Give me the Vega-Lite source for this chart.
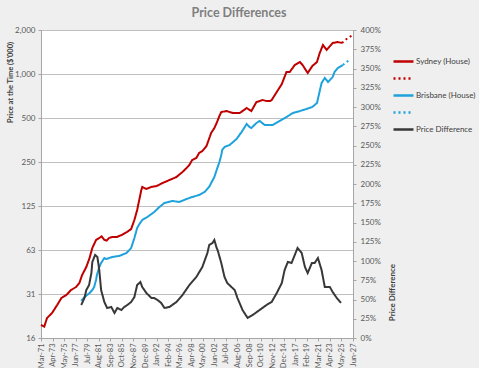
{
  "$schema": "https://vega.github.io/schema/vega-lite/v6.json",
  "autosize": "none",
  "width": 312,
  "height": 308,
  "padding": {"left": 41, "top": 30, "right": 126, "bottom": 30},
  "background": "#efefef",
  "view": {"fill": "white", "stroke": "#bfbfbf"},
  "config": {"font": "Lato", "axis": {"labelFont": "Lato", "titleFont": "Lato", "labelColor": "#595959", "titleColor": "#404040", "labelFontSize": 8, "titleFontSize": 8, "domainColor": "#a6a6a6", "tickColor": "#a6a6a6", "tickSize": 3}},
  "title": {"text": "Price Differences", "font": "Lato", "fontSize": 12.5, "fontWeight": "bold", "color": "#7f7f7f", "anchor": "middle", "dx": 42, "offset": 7},
  "datasets": {
    "prices": [
      {"date": "1971-03-01", "series": "Sydney (House)", "value": 19.2},
      {"date": "1971-10-01", "series": "Sydney (House)", "value": 18.7},
      {"date": "1972-04-01", "series": "Sydney (House)", "value": 21.4},
      {"date": "1973-03-01", "series": "Sydney (House)", "value": 23.2},
      {"date": "1974-02-01", "series": "Sydney (House)", "value": 26.3},
      {"date": "1974-11-01", "series": "Sydney (House)", "value": 29.3},
      {"date": "1975-10-01", "series": "Sydney (House)", "value": 30.8},
      {"date": "1976-08-01", "series": "Sydney (House)", "value": 33.3},
      {"date": "1977-07-01", "series": "Sydney (House)", "value": 34.9},
      {"date": "1978-02-01", "series": "Sydney (House)", "value": 37.2},
      {"date": "1978-08-01", "series": "Sydney (House)", "value": 42.2},
      {"date": "1979-05-01", "series": "Sydney (House)", "value": 47.8},
      {"date": "1979-12-01", "series": "Sydney (House)", "value": 55.1},
      {"date": "1980-06-01", "series": "Sydney (House)", "value": 64.5},
      {"date": "1981-02-01", "series": "Sydney (House)", "value": 73.2},
      {"date": "1981-09-01", "series": "Sydney (House)", "value": 75.5},
      {"date": "1982-02-01", "series": "Sydney (House)", "value": 77.5},
      {"date": "1982-08-01", "series": "Sydney (House)", "value": 73.2},
      {"date": "1983-01-01", "series": "Sydney (House)", "value": 72.5},
      {"date": "1983-06-01", "series": "Sydney (House)", "value": 75.5},
      {"date": "1984-01-01", "series": "Sydney (House)", "value": 76.7},
      {"date": "1984-12-01", "series": "Sydney (House)", "value": 76.7},
      {"date": "1985-04-01", "series": "Sydney (House)", "value": 78.0},
      {"date": "1985-10-01", "series": "Sydney (House)", "value": 79.2},
      {"date": "1986-09-01", "series": "Sydney (House)", "value": 83.0},
      {"date": "1987-06-01", "series": "Sydney (House)", "value": 87.0},
      {"date": "1988-01-01", "series": "Sydney (House)", "value": 100.3},
      {"date": "1988-07-01", "series": "Sydney (House)", "value": 117.3},
      {"date": "1989-04-01", "series": "Sydney (House)", "value": 160.8},
      {"date": "1989-06-01", "series": "Sydney (House)", "value": 168.6},
      {"date": "1990-03-01", "series": "Sydney (House)", "value": 163.4},
      {"date": "1991-01-01", "series": "Sydney (House)", "value": 168.6},
      {"date": "1992-01-01", "series": "Sydney (House)", "value": 171.2},
      {"date": "1993-02-01", "series": "Sydney (House)", "value": 179.5},
      {"date": "1994-05-01", "series": "Sydney (House)", "value": 188.3},
      {"date": "1995-08-01", "series": "Sydney (House)", "value": 197.3},
      {"date": "1996-09-01", "series": "Sydney (House)", "value": 213.6},
      {"date": "1997-06-01", "series": "Sydney (House)", "value": 227.5},
      {"date": "1997-12-01", "series": "Sydney (House)", "value": 238.5},
      {"date": "1998-06-01", "series": "Sydney (House)", "value": 258},
      {"date": "1999-03-01", "series": "Sydney (House)", "value": 266.3},
      {"date": "1999-09-01", "series": "Sydney (House)", "value": 288},
      {"date": "2000-04-01", "series": "Sydney (House)", "value": 297},
      {"date": "2001-01-01", "series": "Sydney (House)", "value": 321.7},
      {"date": "2001-08-01", "series": "Sydney (House)", "value": 370.6},
      {"date": "2001-11-01", "series": "Sydney (House)", "value": 394.7},
      {"date": "2002-06-01", "series": "Sydney (House)", "value": 427},
      {"date": "2002-11-01", "series": "Sydney (House)", "value": 462},
      {"date": "2003-05-01", "series": "Sydney (House)", "value": 516},
      {"date": "2003-09-01", "series": "Sydney (House)", "value": 549},
      {"date": "2004-08-01", "series": "Sydney (House)", "value": 558},
      {"date": "2005-10-01", "series": "Sydney (House)", "value": 541},
      {"date": "2007-01-01", "series": "Sydney (House)", "value": 541},
      {"date": "2008-04-01", "series": "Sydney (House)", "value": 585},
      {"date": "2009-02-01", "series": "Sydney (House)", "value": 558},
      {"date": "2010-01-01", "series": "Sydney (House)", "value": 643},
      {"date": "2010-08-01", "series": "Sydney (House)", "value": 653},
      {"date": "2011-02-01", "series": "Sydney (House)", "value": 664},
      {"date": "2011-11-01", "series": "Sydney (House)", "value": 653},
      {"date": "2012-06-01", "series": "Sydney (House)", "value": 653},
      {"date": "2012-10-01", "series": "Sydney (House)", "value": 664},
      {"date": "2013-09-01", "series": "Sydney (House)", "value": 753},
      {"date": "2014-08-01", "series": "Sydney (House)", "value": 854},
      {"date": "2015-06-01", "series": "Sydney (House)", "value": 1032},
      {"date": "2016-01-01", "series": "Sydney (House)", "value": 1032},
      {"date": "2016-12-01", "series": "Sydney (House)", "value": 1152},
      {"date": "2017-11-01", "series": "Sydney (House)", "value": 1208},
      {"date": "2018-05-01", "series": "Sydney (House)", "value": 1152},
      {"date": "2019-04-01", "series": "Sydney (House)", "value": 1016},
      {"date": "2020-02-01", "series": "Sydney (House)", "value": 1134},
      {"date": "2020-12-01", "series": "Sydney (House)", "value": 1208},
      {"date": "2021-06-01", "series": "Sydney (House)", "value": 1392},
      {"date": "2022-01-01", "series": "Sydney (House)", "value": 1579},
      {"date": "2022-09-01", "series": "Sydney (House)", "value": 1460},
      {"date": "2023-10-01", "series": "Sydney (House)", "value": 1630},
      {"date": "2024-09-01", "series": "Sydney (House)", "value": 1655},
      {"date": "2025-06-01", "series": "Sydney (House)", "value": 1630},
      {"date": "2025-06-01", "series": "Sydney forecast", "value": 1630},
      {"date": "2026-04-01", "series": "Sydney forecast", "value": 1736},
      {"date": "2027-05-01", "series": "Sydney forecast", "value": 1848},
      {"date": "1978-06-01", "series": "Brisbane (House)", "value": 28.0},
      {"date": "1979-01-01", "series": "Brisbane (House)", "value": 29.8},
      {"date": "1979-12-01", "series": "Brisbane (House)", "value": 31.7},
      {"date": "1980-06-01", "series": "Brisbane (House)", "value": 33.3},
      {"date": "1980-10-01", "series": "Brisbane (House)", "value": 34.9},
      {"date": "1981-02-01", "series": "Brisbane (House)", "value": 39.0},
      {"date": "1981-04-01", "series": "Brisbane (House)", "value": 42.2},
      {"date": "1981-09-01", "series": "Brisbane (House)", "value": 47.8},
      {"date": "1982-01-01", "series": "Brisbane (House)", "value": 50.9},
      {"date": "1982-08-01", "series": "Brisbane (House)", "value": 55.1},
      {"date": "1982-12-01", "series": "Brisbane (House)", "value": 54.2},
      {"date": "1984-01-01", "series": "Brisbane (House)", "value": 56.0},
      {"date": "1985-04-01", "series": "Brisbane (House)", "value": 56.9},
      {"date": "1986-08-01", "series": "Brisbane (House)", "value": 59.6},
      {"date": "1987-06-01", "series": "Brisbane (House)", "value": 64.5},
      {"date": "1988-01-01", "series": "Brisbane (House)", "value": 75.5},
      {"date": "1988-07-01", "series": "Brisbane (House)", "value": 88.4},
      {"date": "1988-12-01", "series": "Brisbane (House)", "value": 94.1},
      {"date": "1989-06-01", "series": "Brisbane (House)", "value": 100.3},
      {"date": "1990-05-01", "series": "Brisbane (House)", "value": 105.1},
      {"date": "1991-08-01", "series": "Brisbane (House)", "value": 113.7},
      {"date": "1992-07-01", "series": "Brisbane (House)", "value": 123.0},
      {"date": "1993-06-01", "series": "Brisbane (House)", "value": 131.1},
      {"date": "1994-12-01", "series": "Brisbane (House)", "value": 135.3},
      {"date": "1996-02-01", "series": "Brisbane (House)", "value": 133.1},
      {"date": "1997-06-01", "series": "Brisbane (House)", "value": 139.6},
      {"date": "1998-06-01", "series": "Brisbane (House)", "value": 144.1},
      {"date": "1999-09-01", "series": "Brisbane (House)", "value": 148.6},
      {"date": "2000-09-01", "series": "Brisbane (House)", "value": 155.8},
      {"date": "2001-08-01", "series": "Brisbane (House)", "value": 171.2},
      {"date": "2001-11-01", "series": "Brisbane (House)", "value": 179.5},
      {"date": "2002-06-01", "series": "Brisbane (House)", "value": 197.3},
      {"date": "2002-11-01", "series": "Brisbane (House)", "value": 220.4},
      {"date": "2003-05-01", "series": "Brisbane (House)", "value": 250},
      {"date": "2003-09-01", "series": "Brisbane (House)", "value": 279},
      {"date": "2003-11-01", "series": "Brisbane (House)", "value": 302},
      {"date": "2004-04-01", "series": "Brisbane (House)", "value": 316.7},
      {"date": "2005-03-01", "series": "Brisbane (House)", "value": 326.7},
      {"date": "2006-06-01", "series": "Brisbane (House)", "value": 359},
      {"date": "2007-05-01", "series": "Brisbane (House)", "value": 401},
      {"date": "2008-04-01", "series": "Brisbane (House)", "value": 455},
      {"date": "2008-10-01", "series": "Brisbane (House)", "value": 434},
      {"date": "2009-02-01", "series": "Brisbane (House)", "value": 427},
      {"date": "2010-01-01", "series": "Brisbane (House)", "value": 462},
      {"date": "2010-08-01", "series": "Brisbane (House)", "value": 477},
      {"date": "2011-07-01", "series": "Brisbane (House)", "value": 448},
      {"date": "2012-12-01", "series": "Brisbane (House)", "value": 448},
      {"date": "2014-03-01", "series": "Brisbane (House)", "value": 477},
      {"date": "2015-06-01", "series": "Brisbane (House)", "value": 508},
      {"date": "2016-08-01", "series": "Brisbane (House)", "value": 541},
      {"date": "2017-11-01", "series": "Brisbane (House)", "value": 558},
      {"date": "2019-01-01", "series": "Brisbane (House)", "value": 576},
      {"date": "2020-02-01", "series": "Brisbane (House)", "value": 595},
      {"date": "2020-12-01", "series": "Brisbane (House)", "value": 633},
      {"date": "2021-06-01", "series": "Brisbane (House)", "value": 765},
      {"date": "2021-10-01", "series": "Brisbane (House)", "value": 868},
      {"date": "2022-05-01", "series": "Brisbane (House)", "value": 939},
      {"date": "2022-12-01", "series": "Brisbane (House)", "value": 881},
      {"date": "2023-10-01", "series": "Brisbane (House)", "value": 954},
      {"date": "2024-02-01", "series": "Brisbane (House)", "value": 1032},
      {"date": "2024-09-01", "series": "Brisbane (House)", "value": 1099},
      {"date": "2025-08-01", "series": "Brisbane (House)", "value": 1152},
      {"date": "2025-08-01", "series": "Brisbane forecast", "value": 1152},
      {"date": "2026-04-01", "series": "Brisbane forecast", "value": 1208},
      {"date": "2027-01-01", "series": "Brisbane forecast", "value": 1266}
    ],
    "diff": [
      {"date": "1978-06-01", "series": "Price Difference", "value": 42.9},
      {"date": "1979-01-01", "series": "Price Difference", "value": 51.9},
      {"date": "1979-05-01", "series": "Price Difference", "value": 62.3},
      {"date": "1979-11-01", "series": "Price Difference", "value": 68.8},
      {"date": "1980-04-01", "series": "Price Difference", "value": 84.4},
      {"date": "1980-06-01", "series": "Price Difference", "value": 98.7},
      {"date": "1980-12-01", "series": "Price Difference", "value": 107.8},
      {"date": "1981-05-01", "series": "Price Difference", "value": 105.2},
      {"date": "1981-09-01", "series": "Price Difference", "value": 88.3},
      {"date": "1982-01-01", "series": "Price Difference", "value": 62.3},
      {"date": "1982-08-01", "series": "Price Difference", "value": 46.8},
      {"date": "1983-02-01", "series": "Price Difference", "value": 39.0},
      {"date": "1983-11-01", "series": "Price Difference", "value": 40.3},
      {"date": "1984-06-01", "series": "Price Difference", "value": 32.5},
      {"date": "1984-12-01", "series": "Price Difference", "value": 39.0},
      {"date": "1985-09-01", "series": "Price Difference", "value": 36.4},
      {"date": "1986-03-01", "series": "Price Difference", "value": 40.3},
      {"date": "1986-10-01", "series": "Price Difference", "value": 42.9},
      {"date": "1987-06-01", "series": "Price Difference", "value": 46.8},
      {"date": "1988-01-01", "series": "Price Difference", "value": 53.2},
      {"date": "1988-07-01", "series": "Price Difference", "value": 68.8},
      {"date": "1989-02-01", "series": "Price Difference", "value": 72.7},
      {"date": "1989-06-01", "series": "Price Difference", "value": 66.2},
      {"date": "1990-03-01", "series": "Price Difference", "value": 58.4},
      {"date": "1991-02-01", "series": "Price Difference", "value": 51.9},
      {"date": "1991-08-01", "series": "Price Difference", "value": 51.9},
      {"date": "1992-03-01", "series": "Price Difference", "value": 49.4},
      {"date": "1992-11-01", "series": "Price Difference", "value": 45.5},
      {"date": "1993-06-01", "series": "Price Difference", "value": 39.0},
      {"date": "1994-05-01", "series": "Price Difference", "value": 40.3},
      {"date": "1995-08-01", "series": "Price Difference", "value": 46.8},
      {"date": "1996-09-01", "series": "Price Difference", "value": 55.8},
      {"date": "1997-12-01", "series": "Price Difference", "value": 68.8},
      {"date": "1999-03-01", "series": "Price Difference", "value": 79.2},
      {"date": "2000-04-01", "series": "Price Difference", "value": 92.2},
      {"date": "2001-03-01", "series": "Price Difference", "value": 110.4},
      {"date": "2001-07-01", "series": "Price Difference", "value": 120.8},
      {"date": "2002-02-01", "series": "Price Difference", "value": 123.4},
      {"date": "2002-06-01", "series": "Price Difference", "value": 127.3},
      {"date": "2002-11-01", "series": "Price Difference", "value": 116.9},
      {"date": "2003-01-01", "series": "Price Difference", "value": 114.3},
      {"date": "2003-09-01", "series": "Price Difference", "value": 97.4},
      {"date": "2004-04-01", "series": "Price Difference", "value": 79.2},
      {"date": "2004-10-01", "series": "Price Difference", "value": 71.4},
      {"date": "2005-07-01", "series": "Price Difference", "value": 66.2},
      {"date": "2006-02-01", "series": "Price Difference", "value": 62.3},
      {"date": "2006-08-01", "series": "Price Difference", "value": 51.9},
      {"date": "2007-07-01", "series": "Price Difference", "value": 36.4},
      {"date": "2008-06-01", "series": "Price Difference", "value": 26.0},
      {"date": "2009-05-01", "series": "Price Difference", "value": 29.9},
      {"date": "2010-08-01", "series": "Price Difference", "value": 36.4},
      {"date": "2011-11-01", "series": "Price Difference", "value": 42.9},
      {"date": "2012-10-01", "series": "Price Difference", "value": 46.8},
      {"date": "2013-09-01", "series": "Price Difference", "value": 58.4},
      {"date": "2014-08-01", "series": "Price Difference", "value": 71.4},
      {"date": "2015-02-01", "series": "Price Difference", "value": 88.3},
      {"date": "2015-09-01", "series": "Price Difference", "value": 98.7},
      {"date": "2016-05-01", "series": "Price Difference", "value": 97.4},
      {"date": "2016-12-01", "series": "Price Difference", "value": 107.8},
      {"date": "2017-06-01", "series": "Price Difference", "value": 116.9},
      {"date": "2018-03-01", "series": "Price Difference", "value": 110.4},
      {"date": "2018-10-01", "series": "Price Difference", "value": 92.2},
      {"date": "2019-04-01", "series": "Price Difference", "value": 84.4},
      {"date": "2020-01-01", "series": "Price Difference", "value": 97.4},
      {"date": "2020-07-01", "series": "Price Difference", "value": 97.4},
      {"date": "2021-02-01", "series": "Price Difference", "value": 103.9},
      {"date": "2021-10-01", "series": "Price Difference", "value": 88.3},
      {"date": "2022-05-01", "series": "Price Difference", "value": 66.2},
      {"date": "2023-04-01", "series": "Price Difference", "value": 66.2},
      {"date": "2023-10-01", "series": "Price Difference", "value": 59.7},
      {"date": "2024-07-01", "series": "Price Difference", "value": 51.9},
      {"date": "2025-04-01", "series": "Price Difference", "value": 45.5}
    ]
  },
  "encoding": {
    "x": {
      "field": "date", "type": "temporal",
      "scale": {"type": "utc", "domain": [{"year": 1971, "month": 3, "date": 1, "utc": true}, {"year": 2027, "month": 6, "date": 1, "utc": true}]},
      "axis": {
        "title": null, "labelExpr": "utcFormat(datum.value, '%b-%y')", "labelAngle": -90, "grid": false, "labelPadding": 2, "labelOverlap": false, "labelFontSize": 7.5,
        "values": [
          {"year": 1971, "month": 3, "date": 1, "utc": true}, {"year": 1973, "month": 4, "date": 1, "utc": true},
          {"year": 1975, "month": 5, "date": 1, "utc": true}, {"year": 1977, "month": 6, "date": 1, "utc": true},
          {"year": 1979, "month": 7, "date": 1, "utc": true}, {"year": 1981, "month": 8, "date": 1, "utc": true},
          {"year": 1983, "month": 9, "date": 1, "utc": true}, {"year": 1985, "month": 10, "date": 1, "utc": true},
          {"year": 1987, "month": 11, "date": 1, "utc": true}, {"year": 1989, "month": 12, "date": 1, "utc": true},
          {"year": 1992, "month": 1, "date": 1, "utc": true}, {"year": 1994, "month": 2, "date": 1, "utc": true},
          {"year": 1996, "month": 3, "date": 1, "utc": true}, {"year": 1998, "month": 4, "date": 1, "utc": true},
          {"year": 2000, "month": 5, "date": 1, "utc": true}, {"year": 2002, "month": 6, "date": 1, "utc": true},
          {"year": 2004, "month": 7, "date": 1, "utc": true}, {"year": 2006, "month": 8, "date": 1, "utc": true},
          {"year": 2008, "month": 9, "date": 1, "utc": true}, {"year": 2010, "month": 10, "date": 1, "utc": true},
          {"year": 2012, "month": 11, "date": 1, "utc": true}, {"year": 2014, "month": 12, "date": 1, "utc": true},
          {"year": 2017, "month": 1, "date": 1, "utc": true}, {"year": 2019, "month": 2, "date": 1, "utc": true},
          {"year": 2021, "month": 3, "date": 1, "utc": true}, {"year": 2023, "month": 4, "date": 1, "utc": true},
          {"year": 2025, "month": 5, "date": 1, "utc": true}, {"year": 2027, "month": 6, "date": 1, "utc": true}
        ]
      }
    },
    "color": {
      "field": "series", "type": "nominal",
      "scale": {"domain": ["Sydney (House)", "Sydney forecast", "Brisbane (House)", "Brisbane forecast", "Price Difference"], "range": ["#c00000", "#c00000", "#1fa2dc", "#1fa2dc", "#383838"]},
      "legend": {
        "title": null, "orient": "none", "legendX": 351, "legendY": 20,
        "labelExpr": "indexof(datum.label, 'forecast') >= 0 ? '' : datum.label",
        "labelFont": "Lato", "labelFontSize": 8, "labelColor": "#404040", "symbolSize": 400, "symbolStrokeWidth": 2.5, "rowPadding": -7, "labelOffset": 1
      }
    },
    "strokeDash": {
      "field": "series", "type": "nominal",
      "scale": {"domain": ["Sydney (House)", "Sydney forecast", "Brisbane (House)", "Brisbane forecast", "Price Difference"], "range": [[1, 0], [2, 3], [1, 0], [2, 3], [1, 0]]},
      "legend": null
    }
  },
  "layer": [
    {
      "data": {"name": "prices"},
      "mark": {"type": "line", "strokeWidth": 2},
      "encoding": {
        "y": {
          "field": "value", "type": "quantitative",
          "scale": {"type": "log", "base": 2, "domain": [15.625, 2000], "nice": false},
          "axis": {
            "orient": "left", "title": "Price at the Time ($'000)", "titleFontWeight": "bold", "titleAngle": -90,
            "titleX": -31, "titleY": 52, "titleAlign": "center", "titleBaseline": "middle", "titleFontSize": 7.5,
            "values": [15.625, 31.25, 62.5, 125, 250, 500, 1000, 2000], "format": ",.0f",
            "grid": true, "gridColor": "#bfbfbf", "gridWidth": 1, "labelPadding": 3
          }
        }
      }
    },
    {
      "data": {"name": "diff"},
      "mark": {"type": "line", "strokeWidth": 2},
      "encoding": {
        "y": {
          "field": "value", "type": "quantitative",
          "scale": {"domain": [0, 400], "nice": false, "zero": true},
          "axis": {
            "orient": "right", "title": "Price Difference", "titleFontWeight": "bold", "titleAngle": -90,
            "titleX": 39, "titleY": 262, "titleAlign": "center", "titleBaseline": "middle",
            "values": [0, 25, 50, 75, 100, 125, 150, 175, 200, 225, 250, 275, 300, 325, 350, 375, 400],
            "labelExpr": "datum.value + '%'", "grid": false, "labelPadding": 4
          }
        }
      }
    }
  ],
  "resolve": {"scale": {"y": "independent"}}
}
